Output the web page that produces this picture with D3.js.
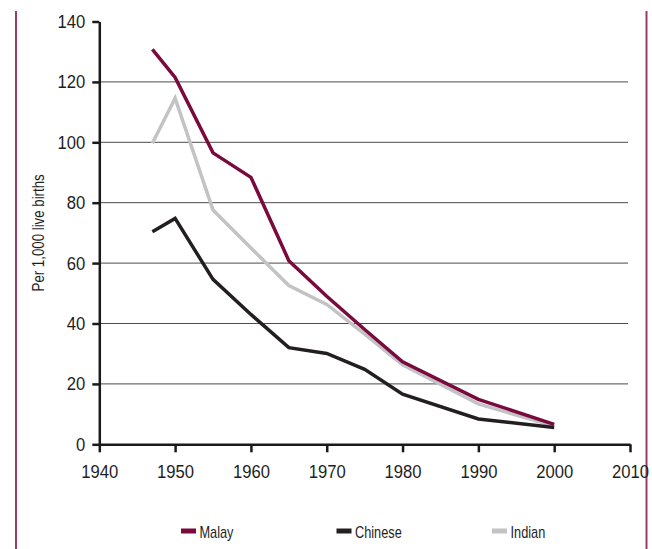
<!DOCTYPE html>
<html>
<head>
<meta charset="utf-8">
<script src="https://cdn.jsdelivr.net/npm/d3@7"></script>
<style>
  html, body { margin: 0; padding: 0; background: #fff; }
  svg { display: block; }
  text { font-family: "Liberation Sans", Arial, sans-serif; fill: #1e1e1e; }
</style>
</head>
<body>
<svg id="chart" width="652" height="549"></svg>
<script>
const years   = [1947, 1950, 1955, 1960, 1965, 1970, 1975, 1980, 1990, 2000];
const malay   = [130.8, 121.5, 96.5, 88.4, 60.8, 49.0, 38.0, 27.3, 14.9, 6.6];
const chinese = [70.4, 74.8, 54.6, 43.0, 32.0, 30.1, 24.8, 16.6, 8.4, 5.6];
const indian  = [99.7, 114.6, 77.6, 65.0, 52.6, 46.3, 36.5, 26.3, 13.4, 6.0];
const seriesNames = ["Malay", "Chinese", "Indian"];
const xTicks = [1940, 1950, 1960, 1970, 1980, 1990, 2000, 2010];
const yTicks = [0, 20, 40, 60, 80, 100, 120, 140];
const yLabel = "Per 1,000 live births";

const colors = { Malay: "#7a0a3e", Chinese: "#231f20", Indian: "#c3c3c5" };
const seriesData = { Malay: malay, Chinese: chinese, Indian: indian };

const svg = d3.select("#chart");
const x = d3.scaleLinear().domain([1940, 2010]).range([99.3, 630]);
const y = d3.scaleLinear().domain([0, 140]).range([444.3, 21.5]);
const tickScale = 0.9;

// frame lines (left & right)
svg.append("line").attr("x1", 16).attr("x2", 16).attr("y1", 11).attr("y2", 549)
  .attr("stroke", "#9a3a6b").attr("stroke-width", 2);
svg.append("line").attr("x1", 646.5).attr("x2", 646.5).attr("y1", 11).attr("y2", 549)
  .attr("stroke", "#9a3a6b").attr("stroke-width", 2);

// gridlines
svg.append("g").selectAll("line")
  .data(yTicks.filter(d => d > 0 && d < 140))
  .join("line")
  .attr("x1", x(1940)).attr("x2", 628)
  .attr("y1", d => y(d)).attr("y2", d => y(d))
  .attr("stroke", "#4a4a4a").attr("stroke-width", 1);

// y axis
const yAxis = svg.append("g").attr("transform", `translate(${x(1940)},0)`)
  .call(d3.axisLeft(y).tickValues(yTicks).tickSizeInner(7).tickSizeOuter(0).tickPadding(7));
yAxis.select(".domain").attr("stroke", "#1a1a1a").attr("stroke-width", 2.5);
yAxis.selectAll(".tick line").attr("stroke", "#1a1a1a").attr("stroke-width", 2.5);
yAxis.selectAll("text").attr("font-size", 18.5)
  .attr("x", -14 / tickScale)
  .attr("transform", `scale(${tickScale},1)`)
  .style("font-family", "'Liberation Sans', Arial, sans-serif").attr("fill", "#222");

// x axis
const xAxis = svg.append("g").attr("transform", `translate(0,${y(0)})`)
  .call(d3.axisBottom(x).tickValues(xTicks).tickFormat(d3.format("d")).tickSizeInner(8).tickSizeOuter(0).tickPadding(13));
xAxis.select(".domain").attr("stroke", "#1a1a1a").attr("stroke-width", 2.5);
xAxis.selectAll(".tick line").attr("stroke", "#1a1a1a").attr("stroke-width", 2.5);
xAxis.selectAll("text").attr("font-size", 18.5)
  .attr("transform", `scale(${tickScale},1)`)
  .style("font-family", "'Liberation Sans', Arial, sans-serif").attr("fill", "#222");

// y label (condensed look via horizontal scale)
svg.append("text")
  .attr("transform", `translate(44,${(y(0) + y(140)) / 2}) rotate(-90) scale(0.78,1)`)
  .attr("text-anchor", "middle")
  .attr("font-size", 17)
  .text(yLabel);

// lines
const line = d3.line().x((d, i) => x(years[i])).y(d => y(d));
["Indian", "Malay", "Chinese"].forEach(name => {
  svg.append("path")
    .datum(seriesData[name])
    .attr("d", line)
    .attr("fill", "none")
    .attr("stroke", colors[name])
    .attr("stroke-width", 3.5)
    .attr("stroke-linejoin", "miter");
});

// legend
const lx = d3.scalePoint().domain(seriesNames).range([181, 492]);
const leg = svg.append("g").selectAll("g").data(seriesNames).join("g")
  .attr("transform", d => `translate(${lx(d)},531)`);
leg.append("rect").attr("x", 0).attr("y", -2.5).attr("width", 15).attr("height", 5)
  .attr("fill", d => colors[d]);
leg.append("text")
  .attr("transform", "translate(18.5,6.5) scale(0.75,1)")
  .attr("font-size", 17)
  .text(d => d);
</script>
</body>
</html>
